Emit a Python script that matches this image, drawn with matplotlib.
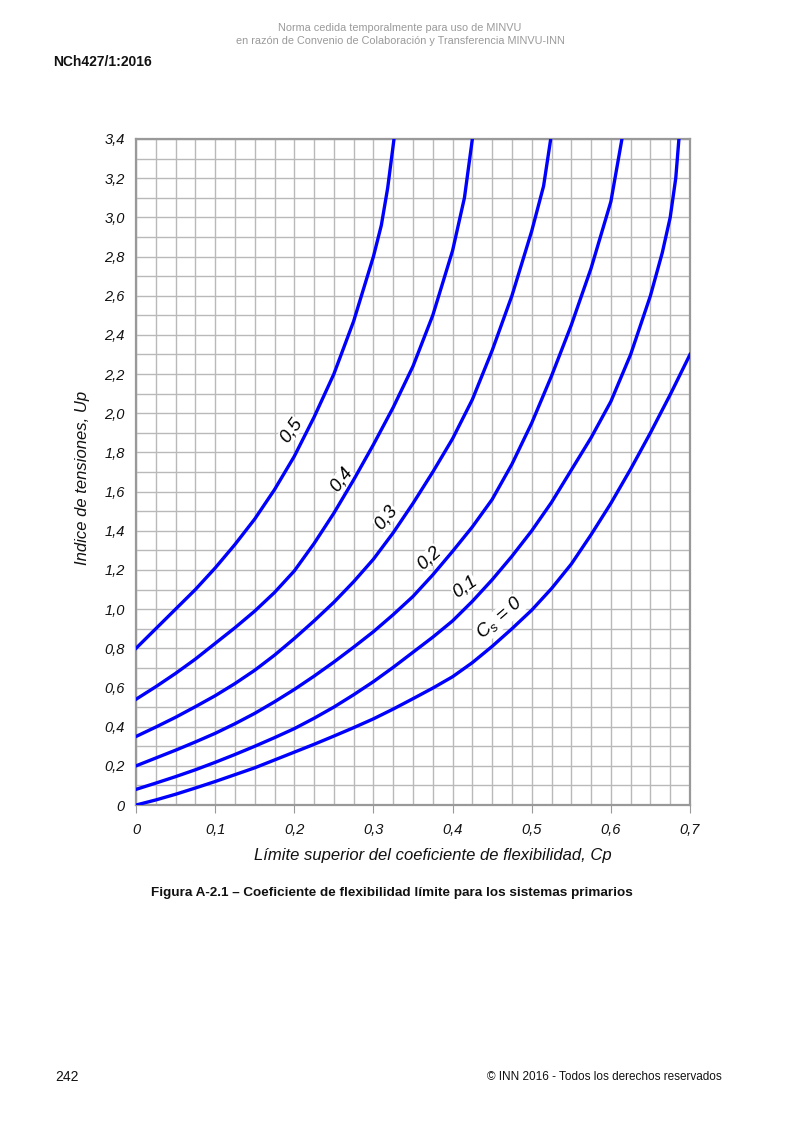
import matplotlib
matplotlib.use("Agg")
import matplotlib.pyplot as plt
import numpy as np

# values (Cp on x, Up on y), one curve per Cs
cp_05 = [0, 0.025, 0.05, 0.075, 0.1, 0.125, 0.15, 0.175, 0.2, 0.225, 0.25, 0.275, 0.3, 0.31, 0.318, 0.326]
up_05 = [0.8, 0.9, 1.0, 1.1, 1.21, 1.33, 1.46, 1.61, 1.78, 1.98, 2.2, 2.47, 2.8, 2.96, 3.15, 3.4]

cp_04 = [0, 0.025, 0.05, 0.075, 0.1, 0.125, 0.15, 0.175, 0.2, 0.225, 0.25, 0.275, 0.3,
         0.325, 0.35, 0.375, 0.4, 0.415, 0.425]
up_04 = [0.54, 0.604, 0.672, 0.745, 0.825, 0.905, 0.99, 1.085, 1.195, 1.335, 1.49, 1.66, 1.84,
         2.03, 2.24, 2.5, 2.83, 3.1, 3.4]

cp_03 = [0, 0.025, 0.05, 0.075, 0.1, 0.125, 0.15, 0.175, 0.2, 0.225, 0.25, 0.275, 0.3, 0.325,
         0.35, 0.375, 0.4, 0.425, 0.45, 0.475, 0.5, 0.515, 0.524]
up_03 = [0.35, 0.398, 0.448, 0.502, 0.558, 0.62, 0.688, 0.765, 0.85, 0.94, 1.035, 1.14, 1.255, 1.39,
         1.54, 1.7, 1.87, 2.07, 2.32, 2.6, 2.93, 3.16, 3.4]

cp_02 = [0, 0.025, 0.05, 0.075, 0.1, 0.125, 0.15, 0.175, 0.2, 0.225, 0.25, 0.275, 0.3, 0.325,
         0.35, 0.375, 0.4, 0.425, 0.45, 0.475, 0.5, 0.525, 0.55, 0.575, 0.6, 0.614]
up_02 = [0.2, 0.24, 0.28, 0.322, 0.366, 0.415, 0.468, 0.527, 0.59, 0.658, 0.73, 0.806, 0.885, 0.972,
         1.065, 1.175, 1.295, 1.42, 1.56, 1.74, 1.95, 2.19, 2.45, 2.74, 3.08, 3.4]

cp_01 = [0, 0.025, 0.05, 0.075, 0.1, 0.125, 0.15, 0.175, 0.2, 0.225, 0.25, 0.275, 0.3, 0.325,
         0.35, 0.375, 0.4, 0.425, 0.45, 0.475, 0.5, 0.525, 0.55, 0.575, 0.6, 0.625, 0.65,
         0.665, 0.675, 0.682, 0.686]
up_01 = [0.08, 0.112, 0.145, 0.18, 0.218, 0.258, 0.3, 0.344, 0.39, 0.443, 0.5, 0.563, 0.63, 0.703,
         0.78, 0.857, 0.94, 1.04, 1.15, 1.27, 1.4, 1.545, 1.71, 1.875, 2.06, 2.3, 2.6,
         2.82, 3.0, 3.2, 3.4]

cp_00 = [0, 0.025, 0.05, 0.075, 0.1, 0.125, 0.15, 0.175, 0.2, 0.225, 0.25, 0.275, 0.3, 0.325,
         0.35, 0.375, 0.4, 0.425, 0.45, 0.475, 0.5, 0.525, 0.55, 0.575, 0.6, 0.625, 0.65, 0.675, 0.7]
up_00 = [0, 0.026, 0.055, 0.087, 0.12, 0.155, 0.19, 0.23, 0.27, 0.31, 0.352, 0.395, 0.44, 0.49,
         0.543, 0.597, 0.655, 0.727, 0.81, 0.9, 0.995, 1.105, 1.23, 1.38, 1.54, 1.715, 1.9, 2.095, 2.3]

curves = [(cp_05, up_05), (cp_04, up_04), (cp_03, up_03), (cp_02, up_02), (cp_01, up_01), (cp_00, up_00)]

# curve labels: text, x, y, rotation
curve_labels = [
    ("0,5", 0.196, 1.913, 54),
    ("0,4", 0.260, 1.66, 53),
    ("0,3", 0.316, 1.47, 51),
    ("0,2", 0.3705, 1.26, 42),
    ("0,1", 0.4150, 1.115, 35),
    (r"C$_\mathregular{s}$ = 0", 0.4595, 0.95, 41),
]

x_ticks = [0, 0.1, 0.2, 0.3, 0.4, 0.5, 0.6, 0.7]
x_tick_labels = ["0", "0,1", "0,2", "0,3", "0,4", "0,5", "0,6", "0,7"]
y_ticks = [0, 0.2, 0.4, 0.6, 0.8, 1.0, 1.2, 1.4, 1.6, 1.8, 2.0, 2.2, 2.4, 2.6, 2.8, 3.0, 3.2, 3.4]
y_tick_labels = ["0", "0,2", "0,4", "0,6", "0,8", "1,0", "1,2", "1,4", "1,6", "1,8", "2,0",
                 "2,2", "2,4", "2,6", "2,8", "3,0", "3,2", "3,4"]

plt.rcParams["font.family"] = ["Liberation Sans", "DejaVu Sans"]

fig = plt.figure(figsize=(8, 11.31), dpi=100)
ax = fig.add_axes([0.17, 0.2882, 0.6925, 0.5889])

blue = "#0000ff"
for cp, up in curves:
    ax.plot(cp, up, color=blue, lw=2.4, solid_joinstyle="round", zorder=3)

for text, x, y, rot in curve_labels:
    ax.text(x, y, text, rotation=rot, ha="center", va="center", fontsize=13.5,
            style="italic", color="#000000", zorder=2.5,
            bbox=dict(facecolor="white", edgecolor="none", pad=0.0))

ax.set_xlim(0, 0.7)
ax.set_ylim(0, 3.4)
ax.set_xticks(np.arange(0, 0.7001, 0.025), minor=True)
ax.set_yticks(np.arange(0, 3.4001, 0.1), minor=True)
ax.grid(which="both", color="#b9b9b9", lw=1.0, zorder=0)
ax.set_axisbelow(True)

ax.set_xticks(x_ticks)
ax.set_xticklabels(x_tick_labels, fontsize=10.5, style="italic", color="#111111")
ax.set_yticks(y_ticks)
ax.set_yticklabels(y_tick_labels, fontsize=10.5, style="italic", color="#111111")
ax.tick_params(axis="x", which="major", direction="out", length=6, color="#999999", pad=7)
ax.tick_params(axis="y", which="major", length=0, pad=8)
ax.tick_params(which="minor", length=0)

for s in ax.spines.values():
    s.set_color("#999999")
    s.set_linewidth(1.6)

ax.set_xlabel("Límite superior del coeficiente de flexibilidad, Cp", fontsize=12,
              style="italic", color="#111111")
ax.xaxis.set_label_coords(0.536, -0.064)
ax.set_ylabel("Indice de tensiones, Up", fontsize=12, style="italic", color="#111111")
ax.yaxis.set_label_coords(-0.083, 0.491)

fig.text(0.5, 1 - 28 / 1131, "Norma cedida temporalmente para uso de MINVU",
         ha="center", va="center", fontsize=7.8, color="#9a9a9a")
fig.text(0.5, 1 - 41 / 1131, "en razón de Convenio de Colaboración y Transferencia MINVU-INN",
         ha="center", va="center", fontsize=7.8, color="#9a9a9a")
fig.text(53 / 800, 1 - 62 / 1131, "NCh427/1:2016", ha="left", va="center",
         fontsize=10, weight="bold", color="#111111")
fig.text(392 / 800, 1 - 893 / 1131,
         "Figura A-2.1 – Coeficiente de flexibilidad límite para los sistemas primarios",
         ha="center", va="center", fontsize=9.7, weight="bold", color="#111111")
fig.text(55 / 800, 1 - 1077 / 1131, "242", ha="left", va="center", fontsize=10, color="#111111")
fig.text(722 / 800, 1 - 1077 / 1131, "© INN 2016 - Todos los derechos reservados",
         ha="right", va="center", fontsize=8.5, color="#111111")

fig.savefig("out.png", dpi=100)
